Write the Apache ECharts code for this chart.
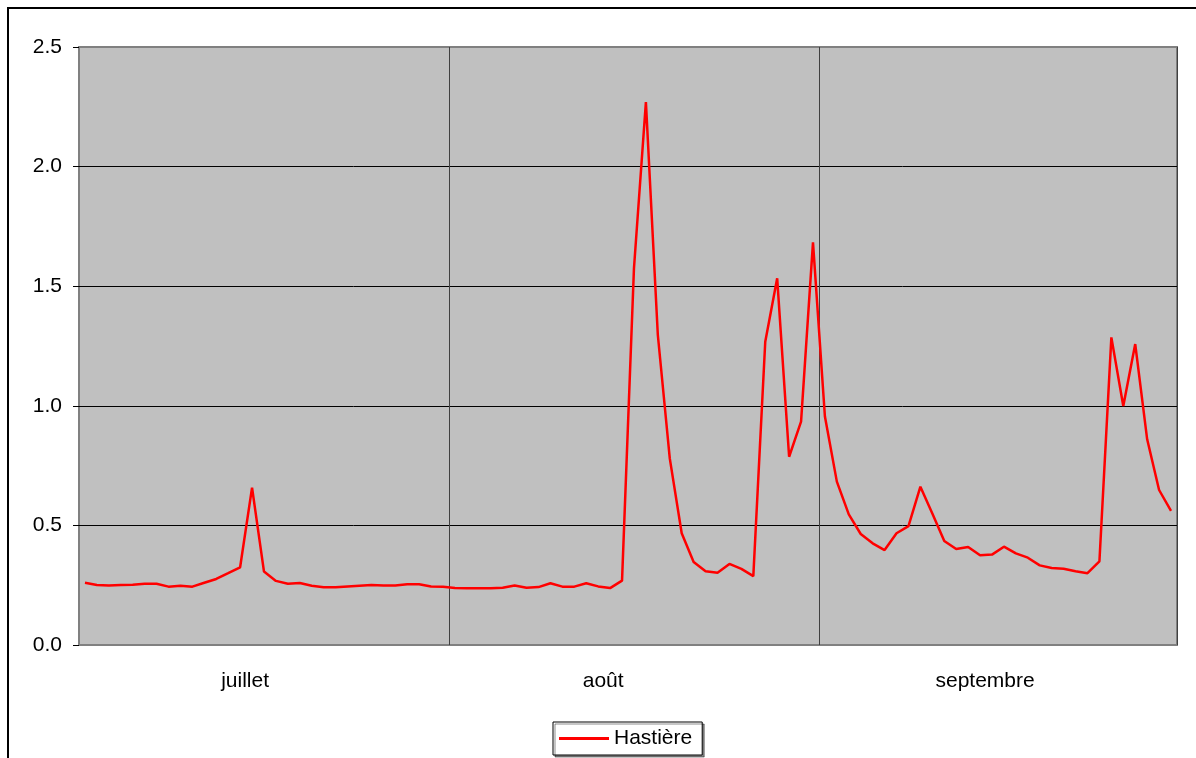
<!DOCTYPE html>
<html>
<head>
<meta charset="utf-8">
<script src="https://cdn.jsdelivr.net/npm/echarts@6/dist/echarts.min.js"></script>
<style>
  html, body { margin: 0; padding: 0; background: #fff; }
  #chart { width: 1196px; height: 758px; }
</style>
</head>
<body>
<div id="chart"></div>
<script>
// ---- data ----
const monthNames = ['juillet', 'août', 'septembre'];
const monthLengths = [31, 31, 30];
const labelDayOfMonth = [14, 13, 14];
const seriesName = 'Hastière';

const julyValues = [0.260, 0.251, 0.249, 0.251, 0.252, 0.256, 0.256, 0.244, 0.248, 0.244,
  0.260, 0.276, 0.300, 0.325, 0.658, 0.307, 0.268, 0.256, 0.259, 0.248,
  0.241, 0.241, 0.245, 0.248, 0.251, 0.249, 0.249, 0.254, 0.254, 0.245, 0.244];
const augustValues = [0.238, 0.237, 0.237, 0.237, 0.239, 0.249, 0.239, 0.242, 0.258, 0.244,
  0.244, 0.258, 0.245, 0.238, 0.269, 1.575, 2.270, 1.296, 0.780, 0.467,
  0.347, 0.308, 0.302, 0.339, 0.318, 0.288, 1.268, 1.533, 0.787, 0.934, 1.683];
const septemberValues = [0.955, 0.683, 0.546, 0.464, 0.425, 0.397, 0.467, 0.497, 0.662, 0.550,
  0.435, 0.401, 0.410, 0.375, 0.378, 0.411, 0.383, 0.365, 0.333, 0.322,
  0.319, 0.308, 0.300, 0.350, 1.286, 0.999, 1.258, 0.860, 0.648, 0.561];
const yTicks = [0, 0.5, 1.0, 1.5, 2.0, 2.5];

// ---- build categories ----
const categories = [];
const labelAt = {};
const monthStart = {};
monthNames.forEach((m, mi) => {
  monthStart[categories.length] = true;
  for (let d = 1; d <= monthLengths[mi]; d++) {
    if (d === labelDayOfMonth[mi]) labelAt[categories.length] = m;
    categories.push(d + ' ' + m);
  }
});
const values = julyValues.concat(augustValues, septemberValues);

const FONT = "'Liberation Sans', Arial, sans-serif";
const FS = 21;
const chart = echarts.init(document.getElementById('chart'), null, { renderer: 'canvas' });
chart.setOption({
  animation: false,
  backgroundColor: '#ffffff',
  textStyle: { fontFamily: FONT },
  graphic: [{
    type: 'rect', silent: true, z: 100,
    shape: { x: 8, y: 8, width: 1300, height: 900 },
    style: { fill: 'none', stroke: '#000', lineWidth: 2 }
  }],
  grid: {
    left: 79, top: 47, right: 19, bottom: 113,
    show: true, backgroundColor: '#C0C0C0',
    borderColor: '#808080', borderWidth: 2
  },
  legend: {
    left: 553, top: 722,
    data: [{ name: seriesName, icon: 'rect' }],
    itemWidth: 50, itemHeight: 3, itemGap: 5,
    padding: [6, 10, 6, 6],
    backgroundColor: '#fff', borderColor: '#000', borderWidth: 1,
    shadowColor: 'rgba(0,0,0,0.45)', shadowOffsetX: 2, shadowOffsetY: 2, shadowBlur: 0,
    textStyle: { fontFamily: FONT, fontSize: FS, color: '#000', padding: [0, 0, 0, 0] }
  },
  xAxis: {
    type: 'category',
    data: categories,
    boundaryGap: true,
    axisLine: { show: false },
    axisTick: { show: false },
    axisLabel: {
      interval: (i) => labelAt[i] !== undefined,
      formatter: (v, i) => labelAt[i] || '',
      fontFamily: FONT, fontSize: FS, color: '#000', margin: 26,
      padding: [0, 0, 0, 10]
    },
    splitLine: {
      show: true,
      interval: (i) => i > 0 && monthStart[i] === true,
      lineStyle: { color: '#404040', width: 1 }
    }
  },
  yAxis: {
    type: 'value',
    min: 0, max: 2.5, interval: 0.5,
    axisLine: { show: false },
    axisTick: { show: true, length: 6, lineStyle: { color: '#000', width: 1 } },
    axisLabel: {
      formatter: (v) => v.toFixed(1),
      fontFamily: FONT, fontSize: FS, color: '#000', margin: 17
    },
    splitLine: {
      show: true,
      lineStyle: { color: yTicks.map((t, k) => (k === 0 || k === yTicks.length - 1) ? '#808080' : '#000'), width: 1 }
    }
  },
  series: [{
    name: seriesName,
    type: 'line',
    data: values,
    symbol: 'none',
    lineStyle: { color: '#FF0000', width: 2.5 },
    itemStyle: { color: '#FF0000' }
  }]
});
</script>
</body>
</html>
